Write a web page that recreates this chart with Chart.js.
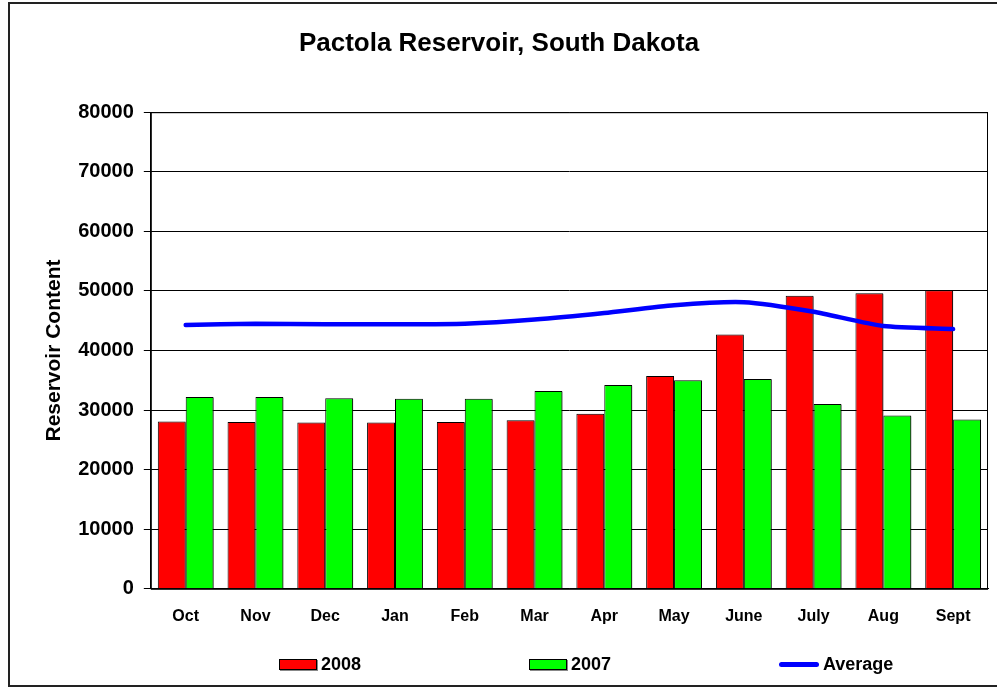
<!DOCTYPE html>
<html>
<head>
<meta charset="utf-8">
<script src="https://cdn.jsdelivr.net/npm/chart.js@4.4.1/dist/chart.umd.min.js"></script>
<style>
    body { margin: 0; background: #fff; overflow: hidden; }
    #wrap { position: relative; width: 997px; height: 687px; }
    #marco {
        position: absolute; left: 8px; top: 2px; width: 1000px; height: 685px;
        box-sizing: border-box; border: 2px solid #222;
    }
    canvas { position: absolute; left: 0; top: 0; }
    #leyenda {
        position: absolute; left: 279px; top: 653px; display: flex;
        font: bold 18px "Liberation Sans", Arial, sans-serif; color: #000;
    }
    .item { display: flex; align-items: center; width: 250px; height: 22px; }
    .caja { width: 38px; height: 11px; box-sizing: border-box; border: 1px solid #000; margin-right: 4px; box-shadow: 1px 1px 0 #888; }
    .linea { width: 40px; height: 5px; border-radius: 3px; margin-right: 4px; }
</style>
</head>
<body>
<div id="wrap">
    <div id="marco"></div>
    <canvas id="reservoir-chart" width="997" height="687"></canvas>
    <div id="leyenda"></div>
</div>
<script>
// Data
const months = ['Oct', 'Nov', 'Dec', 'Jan', 'Feb', 'Mar', 'Apr', 'May', 'June', 'July', 'Aug', 'Sept'];
const content2008 = [28100, 28000, 27900, 27900, 28000, 28300, 29400, 35700, 42700, 49200, 49600, 50100];
const content2007 = [32200, 32200, 32000, 31900, 31900, 33200, 34200, 35000, 35200, 31000, 29100, 28400];
const average = [44300, 44500, 44400, 44400, 44500, 45200, 46300, 47600, 48100, 46500, 44100, 43600];
const yTicks = [0, 10000, 20000, 30000, 40000, 50000, 60000, 70000, 80000];

const font = "'Liberation Sans', Arial, sans-serif";

// border around the plot area + shadow on bars
const plotBorder = {
    id: 'plotBorder',
    beforeDatasetDraw(chart, args) {
        if (args.meta.type === 'bar') {
            const c = chart.ctx;
            c.save();
            c.shadowColor = 'rgba(0,0,0,0.45)';
            c.shadowOffsetX = 2;
            c.shadowOffsetY = 1;
        }
    },
    afterDatasetDraw(chart, args) {
        if (args.meta.type === 'bar') chart.ctx.restore();
    },
    afterDraw(chart) {
        const { ctx, chartArea: a } = chart;
        ctx.save();
        ctx.strokeStyle = '#000';
        ctx.lineWidth = 1;
        ctx.strokeRect(a.left + 0.5, a.top + 0.5, a.right - a.left - 1, a.bottom - a.top);
        ctx.restore();
    }
};

function buildLegend(chart) {
    const box = document.getElementById('leyenda');
    [0, 1, 2].forEach(function (i) {
        const ds = chart.data.datasets[i];
        const item = document.createElement('div');
        item.className = 'item';
        const sw = document.createElement('span');
        if (ds.type === 'line') {
            sw.className = 'linea';
            sw.style.background = ds.borderColor;
        } else {
            sw.className = 'caja';
            sw.style.background = ds.backgroundColor;
        }
        const txt = document.createElement('span');
        txt.textContent = ds.label;
        item.appendChild(sw);
        item.appendChild(txt);
        box.appendChild(item);
    });
}

document.addEventListener('DOMContentLoaded', function () {
    const ctx = document.getElementById('reservoir-chart').getContext('2d');
    const chart = new Chart(ctx, {
        data: {
            labels: months,
            datasets: [{
                type: 'bar',
                label: '2008',
                data: content2008,
                backgroundColor: '#ff0000',
                borderColor: '#000',
                borderWidth: 1,
                order: 1
            }, {
                type: 'bar',
                label: '2007',
                data: content2007,
                backgroundColor: '#00ff00',
                borderColor: '#000',
                borderWidth: 1,
                order: 1
            }, {
                type: 'line',
                label: 'Average',
                data: average,
                borderColor: '#0000ff',
                borderWidth: 4.5,
                borderCapStyle: 'round',
                pointRadius: 0,
                tension: 0.2,
                fill: false,
                order: 0
            }]
        },
        options: {
            responsive: false,
            animation: false,
            datasets: {
                bar: { categoryPercentage: 0.8, barPercentage: 1 }
            },
            layout: { padding: { left: 10, right: 9, top: 0, bottom: 43 } },
            plugins: {
                legend: { display: false },
                tooltip: { enabled: false },
                title: {
                    display: true,
                    text: 'Pactola Reservoir, South Dakota',
                    color: '#000',
                    font: { family: font, size: 26, weight: 'bold' },
                    padding: { top: 28, bottom: 53 }
                }
            },
            scales: {
                x: {
                    grid: { display: false, drawTicks: false },
                    border: { color: '#000', width: 1 },
                    ticks: {
                        color: '#000',
                        padding: 18,
                        font: { family: font, size: 16, weight: 'bold' }
                    }
                },
                y: {
                    min: 0,
                    max: 80000,
                    afterBuildTicks(scale) {
                        scale.ticks = yTicks.map(v => ({ value: v }));
                    },
                    grid: { color: '#000', lineWidth: 1, tickLength: 7 },
                    border: { color: '#000', width: 1 },
                    ticks: {
                        color: '#000',
                        padding: 10,
                        font: { family: font, size: 20, weight: 'bold' },
                        callback: v => String(v)
                    },
                    title: {
                        display: true,
                        text: 'Reservoir Content',
                        color: '#000',
                        font: { family: font, size: 21, weight: 'bold' },
                        padding: { top: 32, bottom: 1 }
                    }
                }
            }
        },
        plugins: [plotBorder]
    });
    buildLegend(chart);
});
</script>
</body>
</html>
